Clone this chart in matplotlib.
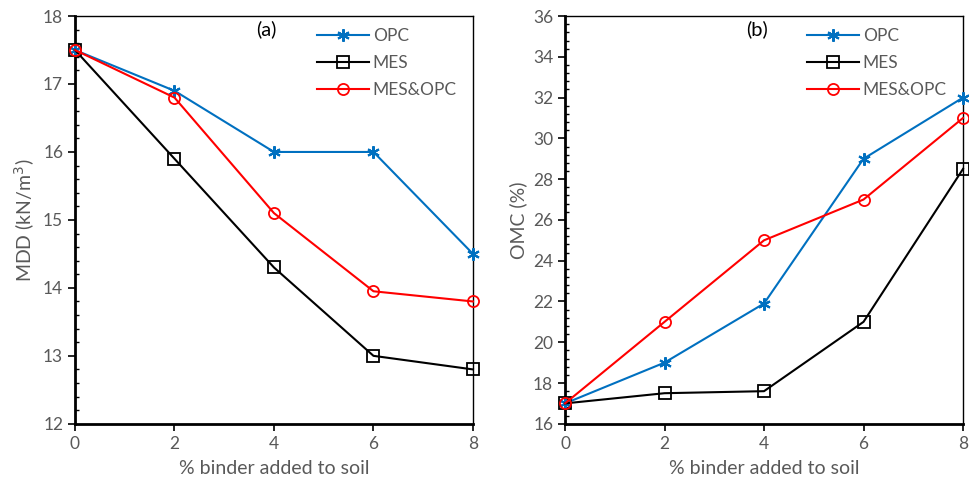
import matplotlib.pyplot as plt
from matplotlib.ticker import MultipleLocator, AutoMinorLocator

plt.rcParams['font.family'] = ['Lato', 'DejaVu Sans']

binder = [0, 2, 4, 6, 8]

mdd_opc = [17.5, 16.9, 16.0, 16.0, 14.5]
mdd_mes = [17.5, 15.9, 14.3, 13.0, 12.8]
mdd_mix = [17.5, 16.8, 15.1, 13.95, 13.8]

omc_opc = [17.0, 19.0, 21.9, 29.0, 32.0]
omc_mes = [17.0, 17.5, 17.6, 21.0, 28.5]
omc_mix = [17.0, 21.0, 25.0, 27.0, 31.0]

grey = '#595959'
blue = '#0070C0'
asterisk = (6, 2, 0)

fig = plt.figure(figsize=(9.7, 4.86), dpi=100)
ax1 = fig.add_axes([0.0773, 0.128, 0.4103, 0.839])
ax2 = fig.add_axes([0.5825, 0.128, 0.4103, 0.839])


def draw(ax, opc, mes, mix, ylim, ystep, ylabel, tag):
    ax.plot(binder, opc, color=blue, marker=asterisk, markersize=9, mew=1.5, lw=1.5,
            label='OPC', clip_on=False, zorder=3)
    ax.plot(binder, mes, color='black', marker='s', markersize=8, mfc='none', mew=1.3, lw=1.5,
            label='MES', clip_on=False, zorder=3)
    ax.plot(binder, mix, color='red', marker='o', markersize=8, mfc='none', mew=1.3, lw=1.5,
            label='MES&OPC', clip_on=False, zorder=3)
    ax.set_xlim(0, 8)
    ax.set_ylim(*ylim)
    ax.xaxis.set_major_locator(MultipleLocator(2))
    ax.yaxis.set_major_locator(MultipleLocator(ystep))
    ax.yaxis.set_minor_locator(AutoMinorLocator(5))
    ax.tick_params(axis='both', which='major', direction='out', length=5, width=1.2,
                   labelsize=12.5, labelcolor=grey)
    ax.tick_params(axis='y', which='minor', direction='in', length=3, width=1)
    for s in ['left', 'bottom']:
        ax.spines[s].set_linewidth(2)
    for s in ['top', 'right']:
        ax.spines[s].set_linewidth(1)
    ax.set_xlabel('% binder added to soil', fontsize=14, color=grey, labelpad=6)
    ax.set_ylabel(ylabel, fontsize=14, color=grey)
    ax.text(0.455, 0.99, tag, transform=ax.transAxes, fontsize=14.5, ha='left', va='top')
    ax.legend(loc='upper right', frameon=False, fontsize=12.5, handlelength=3.0,
              labelcolor=grey, borderaxespad=0.3, labelspacing=0.62, handletextpad=0.2,
              bbox_to_anchor=(0.99, 1.0))


draw(ax1, mdd_opc, mdd_mes, mdd_mix, (12, 18), 1, 'MDD (kN/m$^3$)', '(a)')
draw(ax2, omc_opc, omc_mes, omc_mix, (16, 36), 2, 'OMC (%)', '(b)')

fig.savefig('out.png', dpi=100)
